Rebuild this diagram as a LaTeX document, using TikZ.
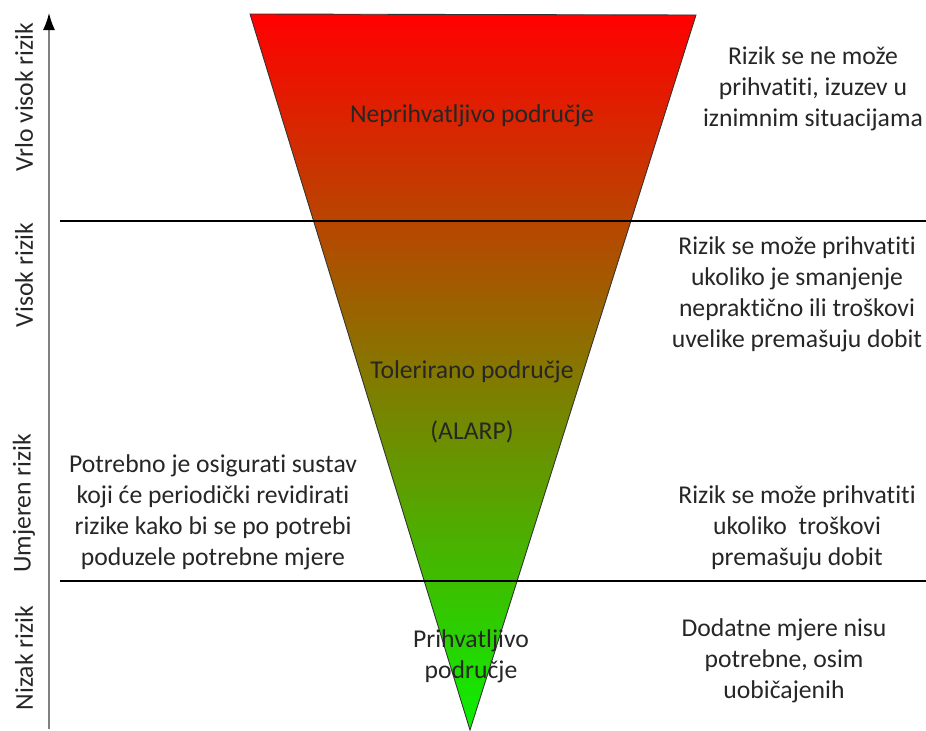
\documentclass[tikz,border=0pt]{standalone}
\usepackage{fontspec}
\setmainfont{Carlito}[Ligatures={NoCommon}]
\usetikzlibrary{positioning,arrows.meta}

\begin{document}
\begin{tikzpicture}[x=0.2mm,y=-0.2mm,
				every node/.style={text=black!85,font=\fontsize{14.6}{17.6}\selectfont,inner sep=0pt},
				note/.style={align=center},
				level/.style={rotate=90},
				rule/.style={draw=black,line width=0.6pt}]
				\useasboundingbox (0,0) rectangle (926,731);
				\coordinate (TL) at (250,14);
				\coordinate (TR) at (696,15);
				\coordinate (TIP) at (470,730);
				\shade[top color=red,bottom color={rgb,255:red,10;green,240;blue,0},draw=black!80,line width=0.5pt]
					(TL) -- (TR) -- (TIP) -- cycle;
				
				\coordinate (AXB) at (49,729);
				\coordinate (AXT) at (49,13);
				\draw[gray,line width=0.8pt,-{Latex[length=3.4mm,width=2.4mm,color=black]}] (AXB) -- (AXT);
				\coordinate (H1L) at (60,221);
				\coordinate (H1R) at (926,221);
				\coordinate (H2L) at (60,581);
				\coordinate (H2R) at (926,581);
				\draw[rule] (H1L) -- (H1R) (H2L) -- (H2R);
				
				\node (NEP) at (472,116) {Neprihvatljivo područje};
				\node (TOL) at (472,372) {Tolerirano područje};
				\node (ALARP) at ([yshift=-12mm]TOL.center) {(ALARP)};
				\node (PRI) [note] at (471,656) {Prihvatljivo\\područje};
				
				\node (VV) [level] at (24,97)  {Vrlo visok rizik};
				\node (V)  [level] at (24,275) {Visok rizik};
				\node (U)  [level] at (24,503) {Umjeren rizik};
				\node (N)  [level] at (24,658) {Nizak rizik};
				
				\node (R1) [note] at (813,89)    {Rizik se ne može\\prihvatiti, izuzev u\\iznimnim situacijama};
				\node (R2) [note] at (797,294.5) {Rizik se može prihvatiti\\ukoliko je smanjenje\\nepraktično ili troškovi\\uvelike premašuju dobit};
				\node (R3) [note] at (797,528)   {Rizik se može prihvatiti\\ukoliko\ \ troškovi\\premašuju dobit};
				\node (R4) [note] at (784,661)   {Dodatne mjere nisu\\potrebne, osim\\uobičajenih};
				\node (L1) [note] at (213,512)   {Potrebno je osigurati sustav\\koji će periodički revidirati\\rizike kako bi se po potrebi\\poduzele potrebne mjere};
			\end{tikzpicture}
\end{document}
